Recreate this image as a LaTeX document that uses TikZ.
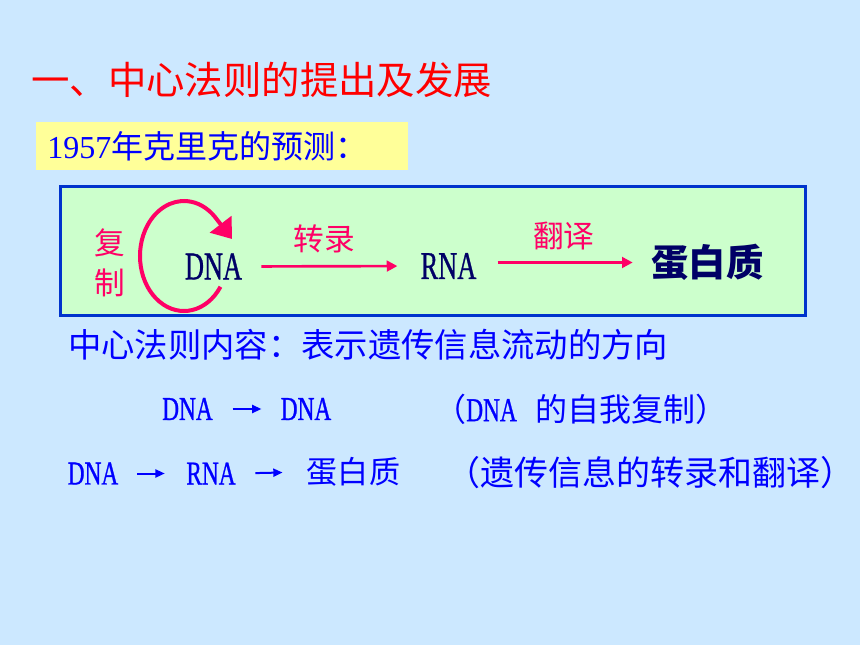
\documentclass[tikz,border=0pt]{standalone}
\usepackage{graphicx}
\usepackage{fontspec}
\setmainfont{Liberation Serif}
\newfontfamily\cjk{Noto Sans CJK SC}
\newfontfamily\narfont{Liberation Serif}[FakeBold=1]
\usetikzlibrary{arrows.meta,positioning}
\definecolor{bgblue}{RGB}{204,232,255}
\definecolor{boxgreen}{RGB}{204,255,204}
\definecolor{boxyellow}{RGB}{255,255,153}
\definecolor{rimblue}{RGB}{0,51,204}
\definecolor{pinkred}{RGB}{255,0,102}
\definecolor{navy}{RGB}{0,0,102}
\definecolor{txtblue}{RGB}{0,0,255}
\newcommand{\nar}[2][0.7]{\scalebox{#1}[1]{\narfont #2}}
\begin{document}
\begin{tikzpicture}[x=0.75pt, y=-0.75pt,
    every node/.style={inner sep=0pt},
    big/.style={text=navy, font=\fontsize{29.5}{29.5}\selectfont},
    row/.style={text=txtblue, font=\fontsize{25}{25}\selectfont},
    lbl/.style={text=pinkred, font=\cjk\fontsize{23}{23}\selectfont},
    flow/.style={draw=pinkred, line width=2pt, -{Triangle[length=8pt, width=8pt]}},
    rowarrow/.style={draw=txtblue, line width=1.5pt, -{Triangle[length=7pt, width=6pt]}}]
  \fill[bgblue] (0,0) rectangle (860,645);
  \fill[boxyellow] (36,122) rectangle (408,170);
  \draw[rimblue, line width=2.25pt, fill=boxgreen] (60,187) rectangle (805,315);

  \node[anchor=west, text=red, font=\cjk\fontsize{28.8}{28.8}\selectfont] (title) at (31,80) {一、中心法则的提出及发展};
  \node[anchor=west, text=txtblue, font=\fontsize{24}{24}\selectfont] (crick) at (47,146) {1957{\cjk 年克里克的预测：}};

  \node[big] (dna) at (213.5,266.5) {\nar[0.67]{DNA}};
  \node[big] (rna) at (448.5,266) {\nar[0.67]{RNA}};
  \node[text=navy, font=\cjk\bfseries\fontsize{28}{28}\selectfont] (prot) at (707.5,262.5) {蛋白质};
  \node[text=pinkred, align=center, font=\cjk\fontsize{23}{30}\selectfont] (fz) at (110,262.5) {复\\制};
  \coordinate (loop) at (184,256);

  \draw[pinkred, line width=3pt, -{Triangle[length=14pt, width=20pt]}]
    ([shift={(34:44 and 55)}]loop) arc[start angle=34, end angle=315, x radius=44, y radius=55]
    -- ([shift={(48,-17)}]loop);
  \draw[flow, shorten <=14.25pt, shorten >=17.25pt] (dna.east) -- node[pos=0.46, above=9pt, lbl] (zl) {转录} (rna.west);
  \draw[flow, shorten <=15.75pt, shorten >=13.9pt] (rna.east |- prot.west) -- node[midway, above=8pt, lbl] (fy) {翻译} (prot.west);

  \node[anchor=west, text=txtblue, font=\cjk\fontsize{25}{25}\selectfont] (law) at (68,345) {中心法则内容：表示遗传信息流动的方向};

  \node[row] (d1) at (187.5,409) {\nar{DNA}};
  \node[row] (d2) at (306,409) {\nar{DNA}};
  \node[row, anchor=west] (selfcopy) at (434,409) {{\cjk\fontsize{24}{24}\selectfont （}\nar{DNA}\hspace{14pt}{\cjk\fontsize{24}{24}\selectfont 的自我复制）}};
  \draw[rowarrow, shorten <=14.6pt, shorten >=14.25pt] (d1.east) -- (d2.west);

  \node[row] (d3) at (93,473.5) {\nar{DNA}};
  \node[row] (r3) at (211,473.5) {\nar{RNA}};
  \node[text=txtblue, font=\cjk\fontsize{23.3}{23.3}\selectfont] (p3) at (353.5,472) {蛋白质};
  \node[anchor=west, text=txtblue, font=\cjk\fontsize{25.5}{25.5}\selectfont] (roles) at (446,473) {（遗传信息的转录和翻译）};
  \draw[rowarrow, shorten <=14pt, shorten >=16pt] (d3.east) -- (r3.west);
  \draw[rowarrow, shorten <=14.6pt, shorten >=18pt] (r3.east) -- (p3.west);
\end{tikzpicture}
\end{document}
